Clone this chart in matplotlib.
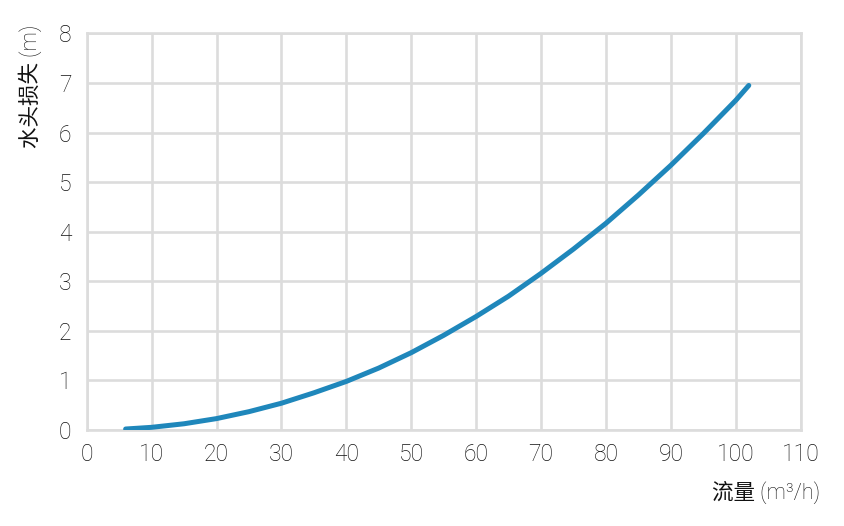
import matplotlib
matplotlib.use("Agg")
import matplotlib.pyplot as plt

flow = [6, 10, 15, 20, 25, 30, 35, 40, 45, 50, 55, 60, 65, 70, 75, 80, 85, 90, 95, 100, 102]
head_loss = [0.02, 0.054, 0.126, 0.23, 0.37, 0.54, 0.75, 0.98, 1.25, 1.56, 1.91, 2.29, 2.70, 3.16, 3.65,
             4.17, 4.74, 5.34, 5.98, 6.65, 6.95]
x_ticks = [0, 10, 20, 30, 40, 50, 60, 70, 80, 90, 100, 110]
y_ticks = [0, 1, 2, 3, 4, 5, 6, 7, 8]
x_label = "流量 (m³/h)"
y_label = "水头损失 (m)"

plt.rcParams['font.family'] = ['Roboto', 'Noto Sans CJK SC', 'DejaVu Sans']

fig = plt.figure(figsize=(8.44, 5.26), dpi=100)
ax = fig.add_axes([0.1027, 0.1825, 0.846, 0.754])

grid_c = "#dcdcdc"
txt_c = "#111111"
ax.plot(flow, head_loss, color="#1f87bb", lw=3.6, solid_capstyle="round", solid_joinstyle="round", zorder=3)

ax.set_xlim(0, 110)
ax.set_ylim(0, 8)
ax.set_xticks(x_ticks)
ax.set_yticks(y_ticks)
ax.grid(True, color=grid_c, lw=1.9)
for s in ax.spines.values():
    s.set_color(grid_c)
    s.set_linewidth(1.9)
ax.tick_params(length=0, labelsize=16.5, labelcolor=txt_c)
ax.tick_params(axis='x', pad=9)
ax.tick_params(axis='y', pad=11)
for lab in ax.get_xticklabels() + ax.get_yticklabels():
    lab.set_fontweight('light')

fig.text(0.972, 0.063, x_label, ha='right', va='center', fontsize=15.5, color=txt_c, fontweight='light')
fig.text(0.036, 0.954, y_label, ha='center', va='top', rotation=90, fontsize=15.5, color=txt_c,
         fontweight='light')

fig.savefig("out.png", dpi=100)
